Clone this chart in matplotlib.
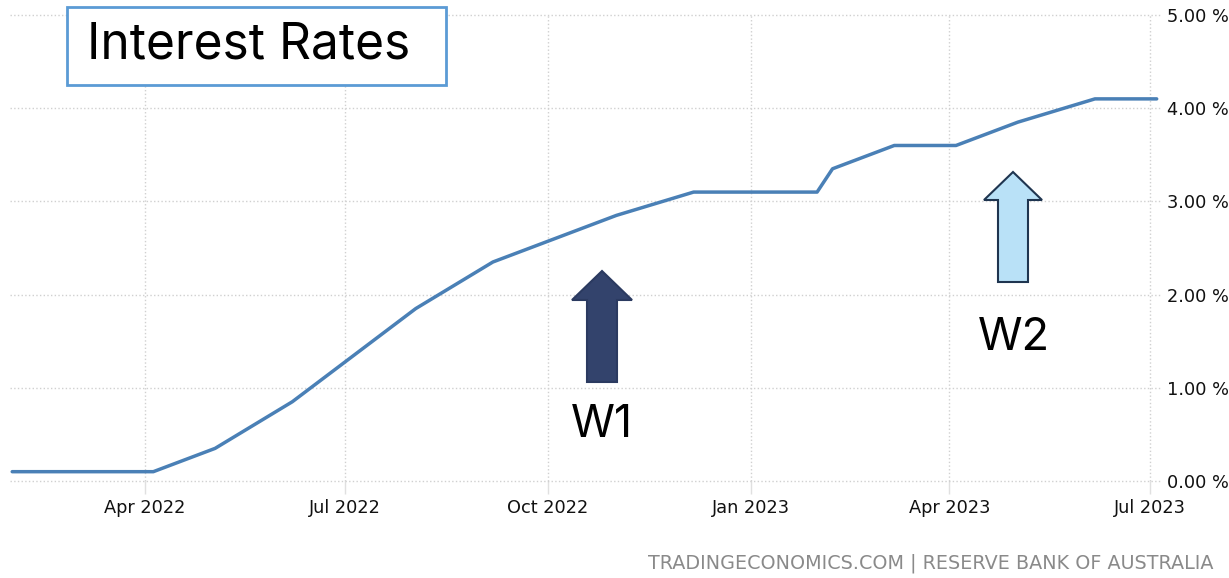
import pandas as pd
import matplotlib
matplotlib.use('Agg')
import matplotlib.pyplot as plt
from matplotlib.patches import Polygon, Rectangle
from matplotlib.ticker import FuncFormatter

# RBA cash rate target, by meeting date
dates = ['2022-01-31', '2022-03-01', '2022-04-05', '2022-05-03', '2022-06-07',
         '2022-07-05', '2022-08-02', '2022-09-06', '2022-10-04', '2022-11-01',
         '2022-12-06', '2023-01-31', '2023-02-07', '2023-03-07', '2023-04-04',
         '2023-05-02', '2023-06-06', '2023-07-04']
rates = [0.10, 0.10, 0.10, 0.35, 0.85,
         1.35, 1.85, 2.35, 2.60, 2.85,
         3.10, 3.10, 3.35, 3.60, 3.60,
         3.85, 4.10, 4.10]
tick_dates = ['2022-04-01', '2022-07-01', '2022-10-01', '2023-01-01', '2023-04-01', '2023-07-01']
tick_labels = ['Apr 2022', 'Jul 2022', 'Oct 2022', 'Jan 2023', 'Apr 2023', 'Jul 2023']
y_ticks = [0, 1, 2, 3, 4, 5]

W, H = 1229, 578
fig = plt.figure(figsize=(W / 100, H / 100), dpi=100)
ax = fig.add_axes([10 / W, (H - 481) / H, 1150 / W, 466 / H])

s = pd.Series(rates, index=pd.to_datetime(dates))
ax.plot(s.index, s.values, color='#4a80b6', lw=2.5, solid_joinstyle='round',
        solid_capstyle='round', zorder=3)

ax.set_xlim(pd.Timestamp('2022-01-30'), pd.Timestamp('2023-07-05 12:00'))
ax.set_ylim(0, 5)
ax.set_xticks(pd.to_datetime(tick_dates))
ax.set_xticklabels(tick_labels)
ax.set_yticks(y_ticks)
ax.yaxis.set_major_formatter(FuncFormatter(lambda v, p: f'{v:.2f} %'))
ax.yaxis.tick_right()

ax.grid(True, color='#d0d0d0', linestyle=':', linewidth=1.0)
for gl in ax.get_ygridlines() + ax.get_xgridlines():
    gl.set_clip_on(False)
for sp in ax.spines.values():
    sp.set_visible(False)
ax.tick_params(axis='x', length=9, color='#e0e0e0', width=1, labelsize=12.8,
               pad=4, labelcolor='#111111')
ax.tick_params(axis='y', length=0, labelsize=12.8, pad=5, labelcolor='#111111')


def px(x, y):
    return (x / W, 1 - y / H)


def up_arrow(cx, tip, base, bottom, head_w, shaft_w, face, edge):
    pts = [(cx, tip), (cx + head_w / 2, base), (cx + shaft_w / 2, base),
           (cx + shaft_w / 2, bottom), (cx - shaft_w / 2, bottom),
           (cx - shaft_w / 2, base), (cx - head_w / 2, base)]
    fig.patches.append(Polygon([px(x, y) for x, y in pts], closed=True,
                               transform=fig.transFigure, facecolor=face,
                               edgecolor=edge, linewidth=1.5, zorder=5))


def fit_width(txt, width_px):
    # scale font so the rendered text spans the given width
    r = fig.canvas.get_renderer()
    w = txt.get_window_extent(r).width
    txt.set_fontsize(txt.get_fontsize() * width_px / w)


up_arrow(602, 271, 300, 382, 60, 30, '#33436c', '#2b3a60')
up_arrow(1013, 172, 200, 282, 58, 30, '#b9e1f7', '#1f3550')

w1 = fig.text(*px(602, 425), 'W1', fontsize=34, family='Inter', ha='center', va='center')
w2 = fig.text(*px(1014, 338), 'W2', fontsize=34, family='Inter', ha='center', va='center')
fit_width(w1, 62)
fit_width(w2, 72)

# title box
fig.patches.append(Rectangle(px(67, 85), 379 / W, 78 / H, transform=fig.transFigure,
                             facecolor='white', edgecolor='#5b9bd5', linewidth=2, zorder=4))
title = fig.text(*px(87, 45), 'Interest Rates', fontsize=32, family='Inter', ha='left',
                 va='center', zorder=6)
fit_width(title, 323)

foot = fig.text(*px(1213, 563), 'TRADINGECONOMICS.COM | RESERVE BANK OF AUSTRALIA',
                fontsize=13, color='#8a8a8a', ha='right', va='center')
fit_width(foot, 561)

fig.savefig('out.png', dpi=100)
